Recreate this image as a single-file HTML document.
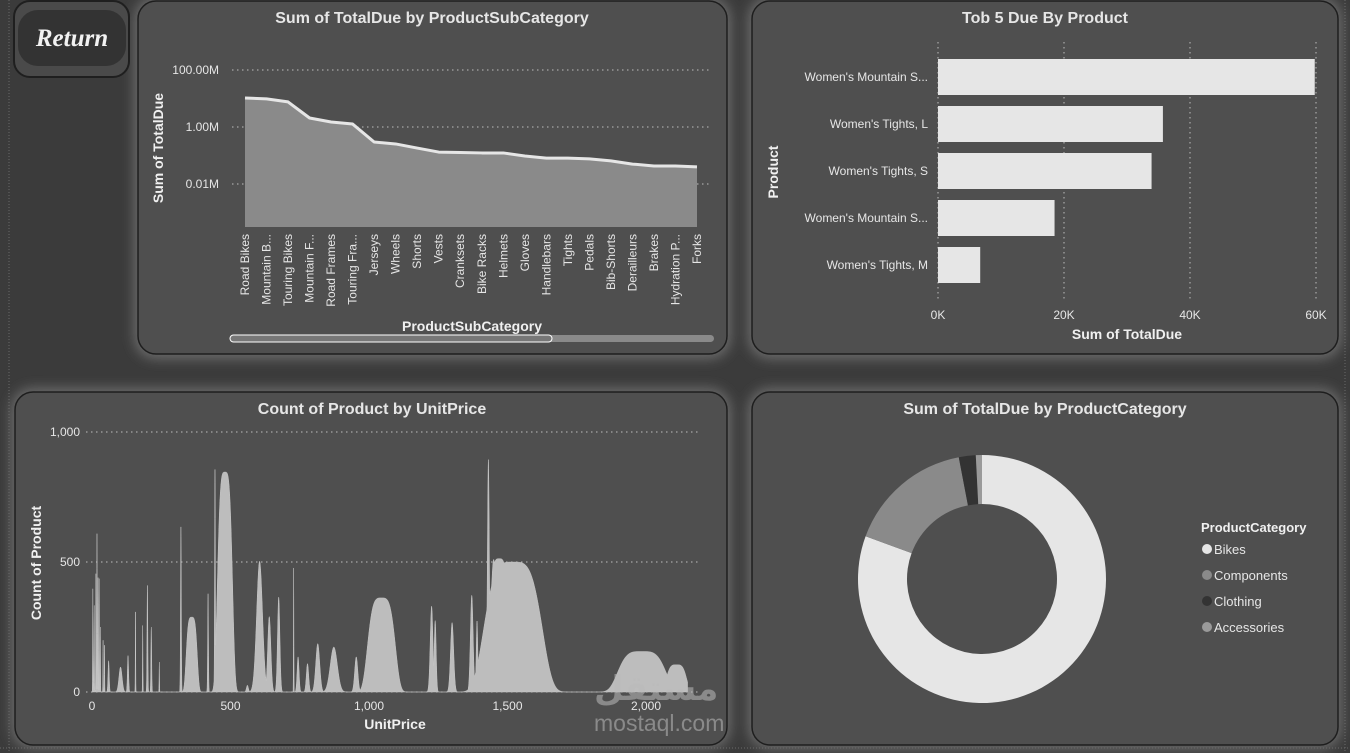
<!DOCTYPE html>
<html><head><meta charset="utf-8">
<style>
html,body{margin:0;padding:0;background:#3a3a3a;width:1350px;height:753px;overflow:hidden}
svg{display:block;font-family:"Liberation Sans Narrow","Liberation Sans",sans-serif}
.t{fill:#e6e6e6;font-size:16px;font-weight:bold}
.tk{fill:#e6e6e6;font-size:12px}
.ax{fill:#f0f0f0;font-size:14px;font-weight:bold}
</style></head>
<body>
<svg id="s" width="1350" height="753" viewBox="0 0 1350 753">
<defs>
<filter id="glow" x="-10%" y="-10%" width="120%" height="120%">
<feGaussianBlur stdDeviation="6"/>
</filter>
</defs>
<rect x="0" y="0" width="1350" height="753" fill="#3b3b3b"/>
<line x1="9" y1="0" x2="9" y2="753" stroke="#6a6a6a" stroke-dasharray="1,2"/>
<line x1="0" y1="748" x2="1350" y2="748" stroke="#6a6a6a" stroke-dasharray="1,2"/>
<line x1="1345" y1="0" x2="1345" y2="753" stroke="#6a6a6a" stroke-dasharray="1,2"/>
<g fill="#6a6a6a" filter="url(#glow)">
<rect x="134" y="-3" width="597" height="362" rx="22"/>
<rect x="748" y="-3" width="594" height="362" rx="22"/>
<rect x="11" y="388" width="720" height="361" rx="22"/>
<rect x="748" y="388" width="594" height="361" rx="22"/>
</g>
<g>
<rect x="14" y="1" width="115" height="76" rx="16" fill="#4a4a4a" stroke="#1f1f1f" stroke-width="2"/>
<rect x="18" y="10" width="108" height="56" rx="20" fill="#333"/>
<text x="72" y="46" text-anchor="middle" font-family="'Liberation Serif',serif" font-style="italic" font-weight="bold" font-size="25" fill="#f2f2f2">Return</text>
</g>
<g id="p1">
<rect x="138" y="1" width="589" height="353" rx="18" fill="#4f4f4f" stroke="#1e1e1e" stroke-width="1.5"/>
<text class="t" x="432" y="23" text-anchor="middle">Sum of TotalDue by ProductSubCategory</text>
<text class="ax" transform="translate(163,148) rotate(-90)" text-anchor="middle">Sum of TotalDue</text>
<text class="ax" x="472" y="331" text-anchor="middle">ProductSubCategory</text>
<rect x="230" y="335" width="484" height="7" rx="3.5" fill="#8a8a8a"/>
<rect x="230" y="335" width="322" height="7" rx="3.5" fill="#777" stroke="#fff" stroke-width="1"/>
</g>
<g id="p2">
<rect x="752" y="1" width="586" height="353" rx="18" fill="#4f4f4f" stroke="#1e1e1e" stroke-width="1.5"/>
<text class="t" x="1045" y="23" text-anchor="middle">Tob 5 Due By Product</text>
<text class="ax" transform="translate(778,172) rotate(-90)" text-anchor="middle">Product</text>
<text class="ax" x="1127" y="339" text-anchor="middle">Sum of TotalDue</text>
</g>
<g id="p3">
<rect x="15" y="392" width="712" height="353" rx="18" fill="#4f4f4f" stroke="#1e1e1e" stroke-width="1.5"/>
<text class="t" x="372" y="414" text-anchor="middle">Count of Product by UnitPrice</text>
<text class="ax" transform="translate(41,563) rotate(-90)" text-anchor="middle">Count of Product</text>
<text class="ax" x="395" y="729" text-anchor="middle">UnitPrice</text>
</g>
<g id="p4">
<rect x="752" y="392" width="586" height="353" rx="18" fill="#4f4f4f" stroke="#1e1e1e" stroke-width="1.5"/>
<text class="t" x="1045" y="414" text-anchor="middle">Sum of TotalDue by ProductCategory</text>
</g>
<g id="wm" opacity="0.55">
<text x="594" y="700" font-size="34" font-weight="bold" fill="#bbb" font-family="'DejaVu Sans',sans-serif">مستقل</text>
<text x="594" y="731" font-size="23" fill="#bbb" font-family="'Liberation Sans',sans-serif">mostaql.com</text>
</g>
</svg>
<script>
const NS="http://www.w3.org/2000/svg";
const svg=document.getElementById('s');
function mk(tag,attrs,parent,txt){const e=document.createElementNS(NS,tag);for(const k in attrs)e.setAttribute(k,attrs[k]);if(txt!==undefined)e.textContent=txt;(parent||svg).appendChild(e);return e;}

// ---- Chart 1 data ----
const subCats=["Road Bikes","Mountain B...","Touring Bikes","Mountain F...","Road Frames","Touring Fra...","Jerseys","Wheels","Shorts","Vests","Cranksets","Bike Racks","Helmets","Gloves","Handlebars","Tights","Pedals","Bib-Shorts","Derailleurs","Brakes","Hydration P...","Forks"];
const subValues=[10400000,9700000,7600000,2070000,1500000,1270000,298000,254000,182000,132000,128000,123000,123000,96000,81000,81000,76000,65000,50000,43000,43000,40000];
const subTicks=[10000,1000000,100000000];
const subTickLabels=["0.01M","1.00M","100.00M"];

const c1={x0:245,x1:697,yTop:70,decPx:28.5,bottom:227};
const x1s=i=>c1.x0+i*(c1.x1-c1.x0)/(subCats.length-1);
const y1s=v=>c1.yTop+(8-Math.log10(v))*c1.decPx;
const p1=document.getElementById('p1');
subTicks.forEach((t,i)=>{
 const y=y1s(t);
 let l=mk('line',{x1:232,x2:712,y1:y,y2:y,stroke:'#bdbdbd','stroke-dasharray':'1.5,3.5'},p1);
 
 
 let tx=mk('text',{x:219,y:y+4,'text-anchor':'end',class:'tk'},p1,subTickLabels[i]);
 
 
});
let dA=`M${x1s(0)},${c1.bottom}`;let dL='';
subValues.forEach((v,i)=>{dA+=` L${x1s(i)},${y1s(v)}`;dL+=(i?' L':'M')+x1s(i)+','+y1s(v);});
dA+=` L${x1s(subValues.length-1)},${c1.bottom} Z`;
let area=mk('path',{d:dA,fill:'#8a8a8a'},p1);


let line=mk('path',{d:dL,fill:'none',stroke:'#e6e6e6','stroke-width':3,'stroke-linejoin':'round'},p1);


subCats.forEach((c,i)=>{
 let t=mk('text',{transform:`translate(${x1s(i)+4},234) rotate(-90)`,'text-anchor':'end',class:'tk','font-family':"'Liberation Sans',sans-serif",'font-size':'11'},p1,c);
 
 
});

// ---- Chart 2 data ----
const products=["Women's Mountain S...","Women's Tights, L","Women's Tights, S","Women's Mountain S...","Women's Tights, M"];
const productValues=[59800,35700,33900,18500,6700];
const prodTicks=[0,20000,40000,60000];
const prodTickLabels=["0K","20K","40K","60K"];
const p2=document.getElementById('p2');
const x2s=v=>938+v*(1316-938)/60000;
const y2s=i=>77+i*47;
prodTicks.forEach((t,i)=>{
 let l=mk('line',{x1:x2s(t),x2:x2s(t),y1:42,y2:300,stroke:'#bdbdbd','stroke-dasharray':'1.5,3.5'},p2);
 
 
 let tx=mk('text',{x:x2s(t),y:319,'text-anchor':'middle',class:'tk'},p2,prodTickLabels[i]);
 
 
});
products.forEach((p,i)=>{
 let r=mk('rect',{x:x2s(0),y:y2s(i)-18,width:x2s(productValues[i])-x2s(0),height:36,fill:'#e6e6e6'},p2);
 
 
 let t=mk('text',{x:928,y:y2s(i)+4,'text-anchor':'end',class:'tk'},p2,p);
 
 
});

// ---- Chart 3 data ----
const peakPrices=[3,8,14,18,22,26,30,40,45,60,103,130,157,183,200,214,243,321,360,419,444,480,561,605,640,674,728,744,778,815,873,954,1045,1226,1239,1300,1371,1390,1431,1450,1470,1520,1985,2110];
const peakCounts=[397,333,455,609,440,436,250,199,180,120,96,140,308,256,410,250,115,635,288,378,856,846,26,503,290,365,477,135,109,186,173,135,362,330,275,267,372,273,894,510,513,500,156,105];
const peakSpreads=[1,1,1,1,1,1,1,1,1,3,8,3,1,1,2,2,1,2,22,2,2,30,5,15,8,6,1,5,6,10,18,8,55,7,5,8,7,4,5,15,40,115,95,40];
const priceTicks=[0,500,1000,1500,2000];
const priceTickLabels=["0","500","1,000","1,500","2,000"];
const countTicks=[0,500,1000];
const countTickLabels=["0","500","1,000"];
const p3=document.getElementById('p3');
const x3s=v=>92+v*(646-92)/2000;
const y3s=v=>692-v*(692-432)/1000;
countTicks.forEach((t,i)=>{
 if(t>0){let l=mk('line',{x1:86,x2:700,y1:y3s(t),y2:y3s(t),stroke:'#bdbdbd','stroke-dasharray':'1.5,3.5'},p3);
 
 }
 let tx=mk('text',{x:80,y:y3s(t)+4,'text-anchor':'end',class:'tk'},p3,countTickLabels[i]);
 
 
});
priceTicks.forEach((t,i)=>{
 let tx=mk('text',{x:x3s(t),y:710,'text-anchor':'middle',class:'tk'},p3,priceTickLabels[i]);
 
 
});
let d3=`M${x3s(0)},${y3s(0)}`;
for(let p=0;p<=2150;p+=0.5){
 let m=0;
 for(let k=0;k<peakPrices.length;k++){
  const z=(p-peakPrices[k])/peakSpreads[k];
  const pw=peakSpreads[k]>20?4:2;
  const v=peakCounts[k]*Math.exp(-Math.pow(Math.abs(z),pw));
  if(v>m)m=v;
 }
 d3+=` L${x3s(p).toFixed(2)},${y3s(m).toFixed(2)}`;
}
d3+=` L${x3s(2150)},${y3s(0)} Z`;
let a3=mk('path',{d:d3,fill:'#bdbdbd',stroke:'#c8c8c8','stroke-width':0.5},p3);


let base=mk('line',{x1:86,x2:700,y1:y3s(0),y2:y3s(0),stroke:'#bdbdbd','stroke-dasharray':'1.5,3.5'},p3);



// ---- Chart 4 data ----
const categories=["Bikes","Components","Clothing","Accessories"];
const categoryValues=[80.6,16.4,2.2,0.8];
const categoryColors=["#e6e6e6","#8a8a8a","#333333","#9a9a9a"];
const p4=document.getElementById('p4');
const cx=982,cy=579,R=124,r=75;
const tot=categoryValues.reduce((a,b)=>a+b,0);
let ang=0;
function pt(a,rad){return [cx+rad*Math.sin(a),cy-rad*Math.cos(a)];}
categoryValues.forEach((v,i)=>{
 const a0=ang,a1=ang+v/tot*2*Math.PI;ang=a1;
 const lg=(a1-a0)>Math.PI?1:0;
 const [x0,y0]=pt(a0,R),[x1,y1]=pt(a1,R),[x2,y2]=pt(a1,r),[x3,y3]=pt(a0,r);
 let s=mk('path',{d:`M${x0},${y0} A${R},${R} 0 ${lg} 1 ${x1},${y1} L${x2},${y2} A${r},${r} 0 ${lg} 0 ${x3},${y3} Z`,fill:categoryColors[i]},p4);
 
 
});
let lt=mk('text',{x:1201,y:532,'font-size':'13','font-weight':'bold',fill:'#f0f0f0'},p4,'ProductCategory');


categories.forEach((c,i)=>{
 const y=549+i*26;
 let g=mk('g',{},p4);
 
 
 mk('circle',{cx:1207,cy:y,r:5,fill:categoryColors[i]},g);
 mk('text',{x:1214,y:y+5,'font-size':'13',fill:'#e6e6e6'},g,c);
});
</script>
</body></html>
